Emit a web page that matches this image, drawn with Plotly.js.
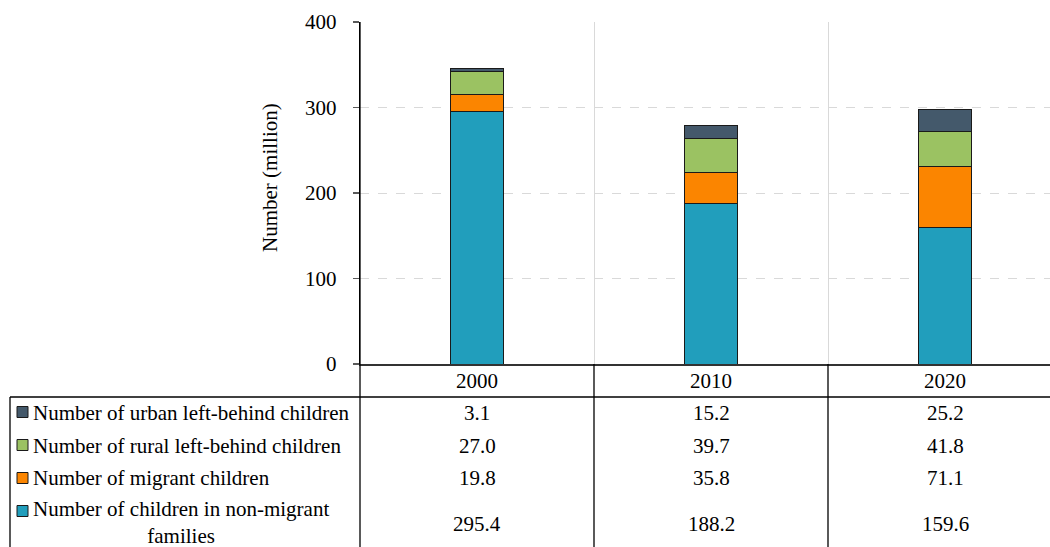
<!DOCTYPE html>
<html>
<head>
<meta charset="utf-8">
<script src="https://cdn.plot.ly/plotly-3.0.1.min.js"></script>
<style>html,body{margin:0;padding:0;background:#fff}#chart{width:1050px;height:547px}</style>
</head>
<body>
<div id="chart"></div>
<script>
const years = ['2000', '2010', '2020'];
const seriesNames = [
  'Number of children in non-migrant<br>families',
  'Number of migrant children',
  'Number of rural left-behind children',
  'Number of urban left-behind children'
];
const nonMigrant = [295.4, 188.2, 159.6];
const migrant = [19.8, 35.8, 71.1];
const ruralLeftBehind = [27.0, 39.7, 41.8];
const urbanLeftBehind = [3.1, 15.2, 25.2];
const colors = ['#219ebc', '#fb8500', '#9bc262', '#44596b'];
const yTicks = [0, 100, 200, 300, 400];

const seriesValues = [nonMigrant, migrant, ruralLeftBehind, urbanLeftBehind];

// layout geometry (pixels)
const W = 1050, H = 547;
const L = 360, T = 22, B = 364;
const PW = W - L, PH = B - T;
const py = p => (B - p) / PH;       // pixel y -> paper y
const px = p => (p - L) / PW;       // pixel x -> paper x
const font = "'Liberation Serif', 'Times New Roman', 'DejaVu Serif', serif";
const FS = 21;

const traces = seriesValues.map((vals, i) => ({
  type: 'bar',
  x: years,
  y: vals,
  name: seriesNames[i],
  width: 0.226,
  marker: {color: colors[i], line: {color: '#1a1a1a', width: 1}},
  hoverinfo: 'skip'
}));

// table rows (top to bottom = reversed series order)
const rowCenters = [413, 446, 478, 522];
const keyCenters = [412, 445, 478, 511];
const valueCenters = [413, 446, 478, 524];
const rowOrder = [3, 2, 1, 0];

const annotations = [];
const shapes = [];

// header years
years.forEach((y, c) => annotations.push({
  x: c, xref: 'x', y: py(381), yref: 'paper', text: y, showarrow: false,
  xanchor: 'center', yanchor: 'middle', font: {family: font, size: FS, color: '#000'}
}));

rowOrder.forEach((si, r) => {
  const cy = rowCenters[r];
  const ky = keyCenters[r];
  // legend key
  shapes.push({
    type: 'rect', xref: 'paper', yref: 'paper',
    x0: px(17), x1: px(28), y0: py(ky - 5.5), y1: py(ky + 5.5),
    fillcolor: colors[si], line: {color: '#1a1a1a', width: 1}
  });
  annotations.push({
    x: px(31), xref: 'paper', y: py(cy), yref: 'paper', text: seriesNames[si],
    showarrow: false, xanchor: 'left', yanchor: 'middle', align: 'center',
    font: {family: font, size: FS, color: '#000'}
  });
  years.forEach((yr, c) => annotations.push({
    x: c, xref: 'x', y: py(valueCenters[r]), yref: 'paper', text: seriesValues[si][c].toFixed(1),
    showarrow: false, xanchor: 'center', yanchor: 'middle',
    font: {family: font, size: FS, color: '#000'}
  }));
});

// y-axis title
annotations.push({
  x: px(270), xref: 'paper', y: py(178), yref: 'paper', text: 'Number (million)',
  textangle: -90, showarrow: false, xanchor: 'center', yanchor: 'middle',
  font: {family: font, size: FS, color: '#000'}
});

// table lines
const lineStyle = {color: '#000', width: 1.3};
shapes.push({type: 'line', xref: 'paper', yref: 'paper', x0: px(10), x1: 1, y0: py(397), y1: py(397), line: lineStyle});
shapes.push({type: 'line', xref: 'paper', yref: 'paper', x0: px(10), x1: px(10), y0: py(397), y1: py(H + 2), line: lineStyle});
shapes.push({type: 'line', xref: 'paper', yref: 'paper', x0: 0, x1: 0, y0: 1, y1: py(H + 2), line: lineStyle});
[0.5, 1.5].forEach(b => shapes.push({type: 'line', xref: 'x', yref: 'paper', x0: b, x1: b, y0: 0, y1: py(H + 2), line: lineStyle}));

const layout = {
  width: W, height: H,
  margin: {l: L, r: 0, t: T, b: H - B, pad: 0},
  paper_bgcolor: '#fff', plot_bgcolor: '#fff',
  barmode: 'stack',
  showlegend: false,
  font: {family: font, size: FS, color: '#000'},
  xaxis: {
    type: 'category', categoryorder: 'array', categoryarray: years,
    range: [-0.5, -0.5 + PW / 234],
    showticklabels: false, ticks: '', tickson: 'boundaries',
    showgrid: true, gridcolor: '#d9d9d9', gridwidth: 1,
    showline: true, linecolor: '#333', linewidth: 1.5,
    zeroline: false, fixedrange: true
  },
  yaxis: {
    range: [0, 400], tickvals: yTicks, ticktext: yTicks.map(String),
    ticks: 'outside', ticklen: 6, tickcolor: '#595959', tickwidth: 1.5,
    ticklabelstandoff: 12,
    tickfont: {family: font, size: FS, color: '#000'},
    showgrid: true, gridcolor: '#d9d9d9', griddash: 'dash', gridwidth: 1,
    showline: true, linecolor: '#000', linewidth: 1.3,
    zeroline: false, fixedrange: true
  },
  annotations: annotations,
  shapes: shapes
};

Plotly.newPlot('chart', traces, layout, {staticPlot: true, displayModeBar: false});
</script>
</body>
</html>
